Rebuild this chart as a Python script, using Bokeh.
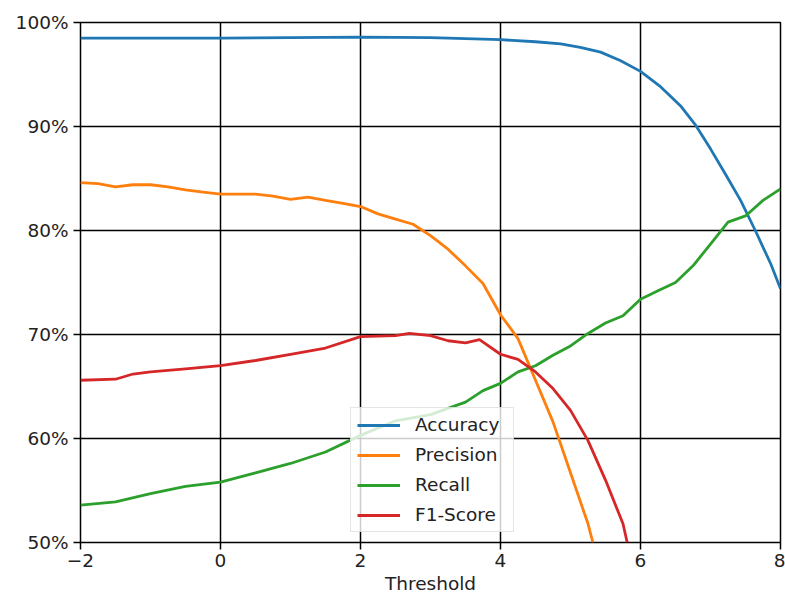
from bokeh.plotting import figure
from bokeh.models import FixedTicker, PrintfTickFormatter, CustomJSTickFormatter, Legend
from bokeh.embed import file_html
from bokeh.resources import INLINE

# Data (percent)
acc_t = [-2, -1, 0, 1, 2, 3, 4, 4.5, 4.86, 5.14, 5.43, 5.71, 6, 6.29, 6.57, 6.79, 7, 7.21, 7.43, 7.64, 7.86, 8]
acc = [98.5, 98.5, 98.5, 98.55, 98.6, 98.55, 98.35, 98.15, 97.95, 97.6, 97.15, 96.35, 95.3, 93.8, 92.0, 90.1,
       87.85, 85.45, 82.9, 80.0, 76.8, 74.4]

prec_t = [-2, -1.75, -1.5, -1.25, -1, -0.75, -0.5, -0.25, 0, 0.25, 0.5, 0.75, 1, 1.25, 1.5, 1.75,
          2, 2.25, 2.5, 2.75, 3, 3.25, 3.5, 3.75, 4, 4.25, 4.5, 4.75, 5, 5.25, 5.32]
prec = [84.6, 84.5, 84.2, 84.4, 84.4, 84.2, 83.9, 83.7, 83.5, 83.5, 83.5, 83.3, 83.0, 83.2, 82.9, 82.6,
        82.3, 81.6, 81.1, 80.6, 79.5, 78.2, 76.6, 74.9, 71.9, 69.6, 65.6, 61.6, 56.7, 51.8, 50.0]

rec_t = [-2, -1.5, -1, -0.5, 0, 0.5, 1, 1.5, 2, 2.5, 3, 3.5, 3.75, 4, 4.25, 4.5, 4.75, 5, 5.25,
         5.5, 5.75, 6, 6.25, 6.5, 6.75, 7, 7.25, 7.5, 7.75, 8]
rec = [53.6, 53.9, 54.7, 55.4, 55.8, 56.7, 57.6, 58.7, 60.3, 61.7, 62.3, 63.5, 64.6, 65.3, 66.4,
       67.0, 68.0, 68.9, 70.1, 71.1, 71.8, 73.4, 74.2, 75.0, 76.6, 78.7, 80.8, 81.4, 82.9, 84.0]

f1_t = [-2, -1.5, -1.25, -1, -0.5, 0, 0.5, 1, 1.5, 2, 2.5, 2.7, 3, 3.25, 3.5, 3.7, 4, 4.25, 4.5,
        4.75, 5, 5.25, 5.5, 5.75, 5.81]
f1 = [65.6, 65.7, 66.2, 66.4, 66.7, 67.0, 67.5, 68.1, 68.7, 69.8, 69.9, 70.1, 69.9, 69.4, 69.2,
      69.5, 68.1, 67.6, 66.4, 64.8, 62.7, 59.8, 56.0, 51.8, 50.0]

x_ticks = [-2, 0, 2, 4, 6, 8]
y_ticks = [50, 60, 70, 80, 90, 100]

FONT = "DejaVu Sans"
FS = "18.5px"

p = figure(width=785, height=603, x_range=(-2, 8), y_range=(50, 100),
           output_backend="svg", toolbar_location=None,
           min_border_left=80, min_border_right=5, min_border_top=22, min_border_bottom=61)

p.outline_line_color = "black"
p.outline_line_alpha = 1
p.outline_line_width = 1.5
p.background_fill_color = "white"
p.border_fill_color = "white"

for g in (p.xgrid[0], p.ygrid[0]):
    g.grid_line_color = "black"
    g.grid_line_width = 1.5
    g.grid_line_alpha = 1

p.xaxis.ticker = FixedTicker(ticks=x_ticks)
p.yaxis.ticker = FixedTicker(ticks=y_ticks)
p.yaxis.formatter = PrintfTickFormatter(format="%d%%")
p.xaxis.formatter = CustomJSTickFormatter(code="return tick < 0 ? '\\u2212' + (-tick) : '' + tick;")

for ax in (p.xaxis[0], p.yaxis[0]):
    ax.axis_line_color = None
    ax.major_tick_out = 7
    ax.major_tick_in = 0
    ax.major_tick_line_color = "black"
    ax.major_tick_line_width = 1.5
    ax.minor_tick_line_color = None
    ax.major_label_text_font = FONT
    ax.major_label_text_font_size = FS
    ax.major_label_text_color = "#222222"
    ax.axis_label_text_font = FONT
    ax.axis_label_text_font_size = FS
    ax.axis_label_text_font_style = "normal"
    ax.axis_label_text_color = "#222222"

p.xaxis.major_label_standoff = 4
p.yaxis.major_label_standoff = 5
p.xaxis.axis_label = "Threshold"
p.xaxis.axis_label_standoff = 3

LW = 2.8
r1 = p.line(acc_t, acc, line_color="#1f77b4", line_width=LW)
r2 = p.line(prec_t, prec, line_color="#ff7f0e", line_width=LW)
r3 = p.line(rec_t, rec, line_color="#2ca02c", line_width=LW)
r4 = p.line(f1_t, f1, line_color="#d62728", line_width=LW)

legend = Legend(items=[("Accuracy", [r1]), ("Precision", [r2]), ("Recall", [r3]), ("F1-Score", [r4])],
                location=(270, 10))
legend.label_text_font = FONT
legend.label_text_font_size = FS
legend.label_text_color = "#222222"
legend.glyph_width = 43
legend.glyph_height = 20
legend.label_height = 20
legend.label_width = 92
legend.label_standoff = 15
legend.spacing = 9
legend.padding = 6
legend.margin = 0
legend.background_fill_color = "white"
legend.background_fill_alpha = 0.8
legend.border_line_color = "#cccccc"
legend.border_line_width = 1
p.add_layout(legend, "center")

open("out.html", "w").write(file_html(p, INLINE))
